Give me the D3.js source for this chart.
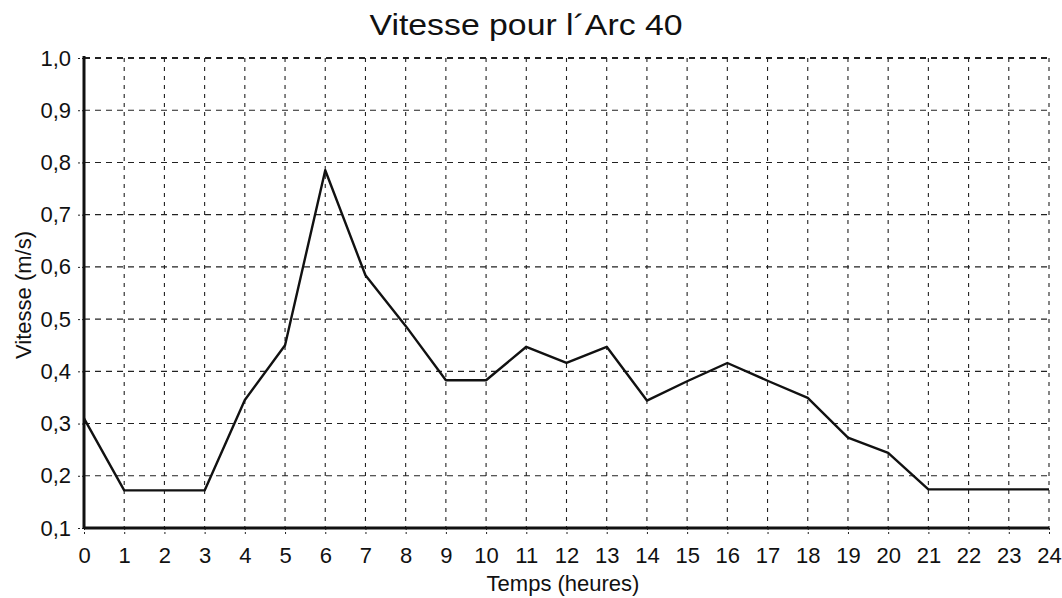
<!DOCTYPE html>
<html>
<head>
<meta charset="utf-8">
<script src="https://cdn.jsdelivr.net/npm/d3@7"></script>
<style>
  body { margin: 0; background: #fff; }
  svg { font-family: "Liberation Sans", Arial, sans-serif; }
</style>
</head>
<body>
<svg id="chart" width="1062" height="598"></svg>
<script>
// data
var hours = d3.range(0, 25);
var speeds = [0.31, 0.172, 0.172, 0.172, 0.345, 0.45, 0.785, 0.584, 0.487, 0.383, 0.383,
  0.447, 0.416, 0.447, 0.344, 0.381, 0.416, 0.382, 0.349, 0.273, 0.244, 0.174, 0.174, 0.174, 0.174];
var yTicks = [0.1, 0.2, 0.3, 0.4, 0.5, 0.6, 0.7, 0.8, 0.9, 1.0];
var title = "Vitesse pour l´Arc 40";
var xLabel = "Temps (heures)";
var yLabel = "Vitesse (m/s)";

var svg = d3.select("#chart");
var plotL = 84, plotR = 1049, plotT = 58, plotB = 528;

var x = d3.scaleLinear().domain([0, 24]).range([plotL, plotR]);
var y = d3.scaleLinear().domain([0.1, 1.0]).range([plotB, plotT]);

var fmt = function(d) { return d3.format(".1f")(d).replace(".", ","); };

// --- grid ---
svg.append("g").selectAll("line").data(hours.slice(1)).join("line")
  .attr("x1", d => x(d)).attr("x2", d => x(d))
  .attr("y1", plotT).attr("y2", plotB)
  .attr("stroke", "#222").attr("stroke-width", 1.1)
  .attr("stroke-dasharray", "4,5");
svg.append("g").selectAll("line").data(yTicks.slice(1)).join("line")
  .attr("x1", plotL).attr("x2", plotR)
  .attr("y1", d => y(d)).attr("y2", d => y(d))
  .attr("stroke", "#222").attr("stroke-width", d => d === 1.0 ? 2 : 1.1)
  .attr("stroke-dasharray", "6,5");

// --- axes ---
var yAxis = d3.axisLeft(y).tickValues(yTicks).tickFormat(fmt).tickSize(6).tickPadding(7);
var gy = svg.append("g").attr("transform", "translate(" + plotL + ",0)").call(yAxis);
var xAxis = d3.axisBottom(x).tickValues(hours).tickSize(6).tickPadding(14);
var gx = svg.append("g").attr("transform", "translate(0," + plotB + ")").call(xAxis);

[gy, gx].forEach(function(g) {
  g.select(".domain").remove();
  g.attr("font-size", 22).attr("font-family", "'Liberation Sans', Arial, sans-serif");
  g.selectAll(".tick line").attr("stroke", "#222").attr("stroke-dasharray", "2,2");
  g.selectAll("text").attr("fill", "#111");
});
gx.selectAll("text").attr("dy", "0.7em");

svg.append("line").attr("x1", plotL).attr("x2", plotL).attr("y1", plotT - 2).attr("y2", plotB + 1)
  .attr("stroke", "#111").attr("stroke-width", 3);
svg.append("line").attr("x1", plotL).attr("x2", plotR).attr("y1", plotB).attr("y2", plotB)
  .attr("stroke", "#111").attr("stroke-width", 3);

// --- line ---
var line = d3.line().x((d, i) => x(hours[i])).y(d => y(d));
svg.append("path").datum(speeds)
  .attr("d", line).attr("fill", "none")
  .attr("stroke", "#111").attr("stroke-width", 2.4).attr("stroke-linejoin", "round");

// --- labels ---
svg.append("text").attr("x", 526).attr("y", 35).attr("text-anchor", "middle")
  .attr("font-size", 29).attr("textLength", 313).attr("lengthAdjust", "spacingAndGlyphs")
  .attr("fill", "#111").text(title);
svg.append("text").attr("x", 563).attr("y", 591).attr("text-anchor", "middle")
  .attr("font-size", 22).attr("fill", "#111").text(xLabel);
svg.append("text").attr("transform", "translate(31,295) rotate(-90)").attr("text-anchor", "middle")
  .attr("font-size", 22).attr("fill", "#111").text(yLabel);
</script>
</body>
</html>
